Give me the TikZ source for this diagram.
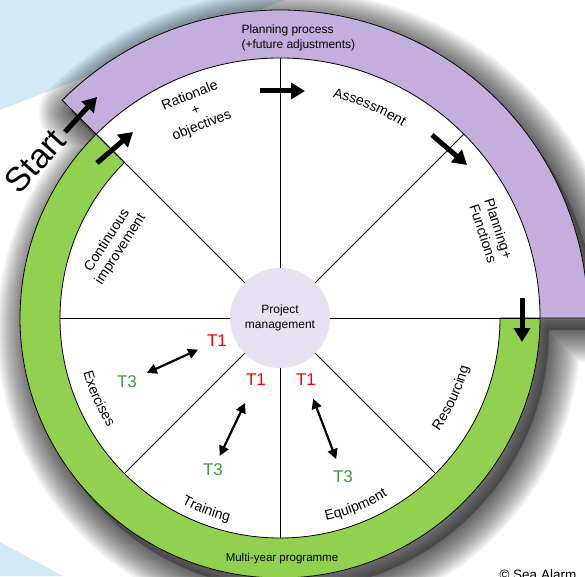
\documentclass[tikz,border=0pt]{standalone}
\usepackage{fontspec}
\setmainfont{Liberation Sans}
\usepackage{tikz}
\usetikzlibrary{arrows.meta, decorations.text}

\definecolor{bandpurple}{HTML}{C3AEDD}
\definecolor{bandgreen}{HTML}{92D050}
\definecolor{hubfill}{HTML}{E7E1F2}
\definecolor{skyblue}{HTML}{D2EAF6}
\definecolor{tgreen}{HTML}{3A9D3A}

\newcommand{\secfont}{\fontsize{14}{16}\selectfont}
\newcommand{\bandfont}{\fontsize{12}{15}\selectfont}
\newcommand{\tfont}{\fontsize{17}{20}\selectfont}
% outer rim of the wheel
\newcommand{\rimpath}{([shift={(hub)}]135:308) arc[start angle=135, end angle=0, radius=308]
        -- ([shift={(hub)}]0:260) arc[start angle=0, end angle=-225, radius=260] -- cycle}

\begin{document}
\begin{tikzpicture}[x=1pt, y=1pt,
    flow/.style={line width=5pt, -{Triangle[length=14pt,width=16pt]}},
    link/.style={line width=2.2pt, {Triangle[length=10pt,width=10pt]}-{Triangle[length=10pt,width=10pt]}},
    seclabel/.style={font=\secfont, align=center},
    arclabel/.style={decorate, decoration={text along path, text align=center, text={|\secfont|#1}}},
    tone/.style={font=\tfont, text=red},
    tthree/.style={font=\tfont, text=tgreen}]
    \useasboundingbox (0,0) rectangle (585,576);
    \clip (0,0) rectangle (585,576);
    \fill[white] (0,0) rectangle (585,576);
    % background
    \fill[skyblue] (0,576) -- (0,466) -- (285,576) -- cycle;
    \fill[skyblue] (0,0) -- (0,34) -- (63,0) -- cycle;

    \coordinate (hub) at (280,258);
    % soft shadow
    \begin{scope}[shift={(9,-12)}]
        \fill[black, opacity=0.28] \rimpath;
        \foreach \w in {64,60,...,4}
            \draw[black, opacity=0.05, line width=\w pt, line join=round] \rimpath;
    \end{scope}
    \fill[white] \rimpath;
    \filldraw[fill=bandpurple, line width=0.8pt]
        ([shift={(hub)}]135:308) arc[start angle=135, end angle=0, radius=308]
        -- ([shift={(hub)}]0:260) arc[start angle=0, end angle=135, radius=260] -- cycle;
    \filldraw[fill=bandgreen, line width=0.8pt]
        ([shift={(hub)}]135:260) arc[start angle=135, end angle=360, radius=260]
        -- ([shift={(hub)}]0:220) arc[start angle=360, end angle=135, radius=220] -- cycle;

    % spokes
    \foreach \a in {0,45,90,135} \draw[line width=0.8pt] (hub) -- ([shift={(hub)}]\a:260);
    \foreach \a in {180,225,270,315} \draw[line width=0.8pt] (hub) -- ([shift={(hub)}]\a:220);

    \node[circle, fill=hubfill, minimum size=100pt, inner sep=0pt, align=center, font=\bandfont] (pm) at (hub) {Project\\management};

    % band texts
    \node[anchor=west, align=left, font=\bandfont] (plproc) at (238,538) {Planning process\\(+future adjustments)};
    \node[font=\fontsize{11.5}{14}\selectfont] (multi) at (282,17) {Multi-year programme};

    % sectors
    \node[seclabel, rotate=22] (rat) at (196,465) {Rationale\\+\\objectives};
    \path[arclabel=Assessment] ([shift={(hub)}]87:227) arc[start angle=87, end angle=47, radius=227];
    \node[seclabel, rotate=-72] (plan) at (491,345) {Planning+\\Functions};
    \path[arclabel=Resourcing] ([shift={(hub)}]315:195) arc[start angle=315, end angle=355, radius=195];
    \path[arclabel=Equipment] ([shift={(hub)}]272:208) arc[start angle=272, end angle=312, radius=208];
    \path[arclabel=Training] ([shift={(hub)}]229:210) arc[start angle=229, end angle=269, radius=210];
    \path[arclabel=Exercises] ([shift={(hub)}]184:204) arc[start angle=184, end angle=224, radius=204];
    \node[seclabel, rotate=57] (cont) at (114,331) {Continuous\\improvement};

    % T1 / T3
    \node[tone] (t1a) at (217,235) {T1};
    \node[tthree] (t3a) at (127,194) {T3};
    \node[tone] (t1b) at (256,196) {T1};
    \node[tthree] (t3b) at (213,106) {T3};
    \node[tone] (t1c) at (306,196) {T1};
    \node[tthree] (t3c) at (343,99) {T3};
    \draw[link, shorten <=7pt, shorten >=6pt] (t3a) -- (t1a);
    \draw[link, shorten <=5pt, shorten >=15pt] (t3b) -- (t1b);
    \draw[link, shorten <=10pt, shorten >=9pt] (t1c) -- (t3c);

    % flow arrows
    \node[rotate=48, font=\fontsize{34}{40}\selectfont] (start) at (35,415) {Start};
    \coordinate (s0) at (65,444); \coordinate (s1) at (97,479);
    \coordinate (g0) at (97,413); \coordinate (g1) at (133,444);
    \coordinate (r0) at (260,485); \coordinate (r1) at (305,485);
    \coordinate (a0) at (432,441); \coordinate (a1) at (467,411);
    \coordinate (p0) at (522,278); \coordinate (p1) at (522,234);
    \draw[flow] (s0) -- (s1);
    \draw[flow] (g0) -- (g1);
    \draw[flow] (r0) -- (r1);
    \draw[flow] (a0) -- (a1);
    \draw[flow] (p0) -- (p1);

    \node[anchor=base west, font=\fontsize{13.5}{16}\selectfont] (copy) at (496,-3) {© Sea Alarm};
\end{tikzpicture}
\end{document}
